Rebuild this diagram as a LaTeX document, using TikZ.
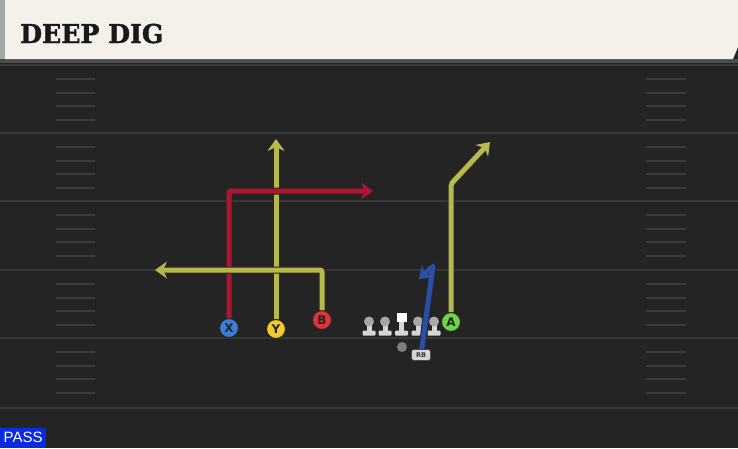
\documentclass[tikz,border=0pt]{standalone}
\usepackage{fontspec}
\setmainfont{DejaVu Serif}
\newfontfamily\titlefont{DejaVu Serif}[BoldFeatures={FakeBold=1.5}]
\newfontfamily\passfont{Liberation Sans}
\newfontfamily\tagfont{DejaVu Sans}
\usetikzlibrary{arrows.meta}
\definecolor{field}{HTML}{242424}
\definecolor{yard}{HTML}{383838}
\definecolor{hash}{HTML}{3C3C3C}
\definecolor{header}{HTML}{F4F1EA}
\definecolor{routered}{HTML}{B0142F}
\definecolor{routeyellow}{HTML}{B9B84C}
\definecolor{routeblue}{HTML}{2A4FA6}
\definecolor{xblue}{HTML}{3C7ED8}
\definecolor{yyellow}{HTML}{F2CA2C}
\definecolor{bred}{HTML}{E2323C}
\definecolor{agreen}{HTML}{6ED44C}
\definecolor{manbody}{HTML}{D6D6D6}
\definecolor{manhead}{HTML}{A8A8A8}
\definecolor{passblue}{HTML}{0A2BE0}
\tikzset{
  player/.style={circle, draw=black!85, line width=1pt, minimum size=19pt, inner sep=0pt,
    font=\tagfont\bfseries\fontsize{12}{12}\selectfont, text=black!85},
  route/.style={line width=5pt, rounded corners=2pt,
    -{Stealth[length=12pt,width=17pt,inset=4pt]},
    preaction={draw=black!85, line width=7pt, arrows=-, shorten >=9pt}},
  yardline/.style={draw=yard, line width=2pt},
  hashmark/.style={draw=hash, line width=1.8pt},
  rbtag/.style={rounded corners=2.5pt, fill=manbody, draw=black!70, line width=0.7pt, text=black!80,
    font=\tagfont\bfseries\fontsize{6.5}{6.5}\selectfont, minimum width=19pt, minimum height=11pt, inner sep=0pt},
  lineman/.pic={
    \fill[manbody] (-2.5,-4) rectangle (2.5,6);
    \fill[manbody, rounded corners=1pt] (-6.5,4.5) rectangle (6.5,9.5);
    \fill[manhead] (0,-4.5) circle (5);
  },
  center/.pic={
    \fill[manbody] (-2.5,-4) rectangle (2.5,6);
    \fill[manbody, rounded corners=1pt] (-6.5,4.5) rectangle (6.5,9.5);
    \fill[white] (-5,-13) rectangle (5,-4);
  }
}
\begin{document}
\begin{tikzpicture}[x=1pt, y=-1pt]
  \useasboundingbox (0,0) rectangle (738,448);
  \fill[field] (0,0) rectangle (738,448);
  \fill[black!70] (0,59) rectangle (738,63);
  \foreach \l in {65,133,201,270,338,408}
    \draw[yardline] (0,\l) -- (738,\l);
  \foreach \l in {65,133,201,270,338}
    \foreach \d in {14,28,41,55} {
      \draw[hashmark] (56,\l+\d) -- (95,\l+\d);
      \draw[hashmark] (646,\l+\d) -- (686,\l+\d);
    }
  \fill[header] (5,0) -- (738,0) -- (738,47) -- (733,59) -- (5,59) -- cycle;
  \fill[black!35] (0,0) rectangle (5,59);
  \node[anchor=base west, inner sep=0pt, text=black!90,
    font=\titlefont\bfseries\fontsize{26}{26}\selectfont] (title) at (20,43) {\scalebox{0.97}[1]{DEEP DIG}};

  \node[player, fill=xblue] (X) at (229,328) {X};
  \node[player, fill=yyellow] (Y) at (276,329) {Y};
  \node[player, fill=bred] (B) at (322,320) {B};
  \node[player, fill=agreen] (A) at (451,322) {A};
  \node[rbtag] (RB) at (421,355) {RB};
  \node[circle, fill=black!50, minimum size=10pt, inner sep=0pt] (QB) at (402,347) {};
  \pic (LT) at (369,326) {lineman};
  \pic (LG) at (385,326) {lineman};
  \pic (C) at (401.5,326) {center};
  \pic (RG) at (418,326) {lineman};
  \pic (RT) at (434,326) {lineman};

  \draw[route, routeyellow] (Y) -- (276,139);
  \draw[route, routered] (X) -- (229,191) -- (373,191);
  \draw[route, routeyellow] (B) -- (322,270) -- (155,270);
  \draw[route, routeyellow] (A) -- (451,184) -- (490,142);
  \draw[route, routeblue] (RB) -- (433,266) -- (419,279);

  \node[anchor=south west, fill=passblue, text=white, minimum width=46pt, minimum height=20pt,
    inner sep=0pt, font=\passfont\fontsize{15}{15}\selectfont] (pass) at (0,448) {PASS};
\end{tikzpicture}
\end{document}
